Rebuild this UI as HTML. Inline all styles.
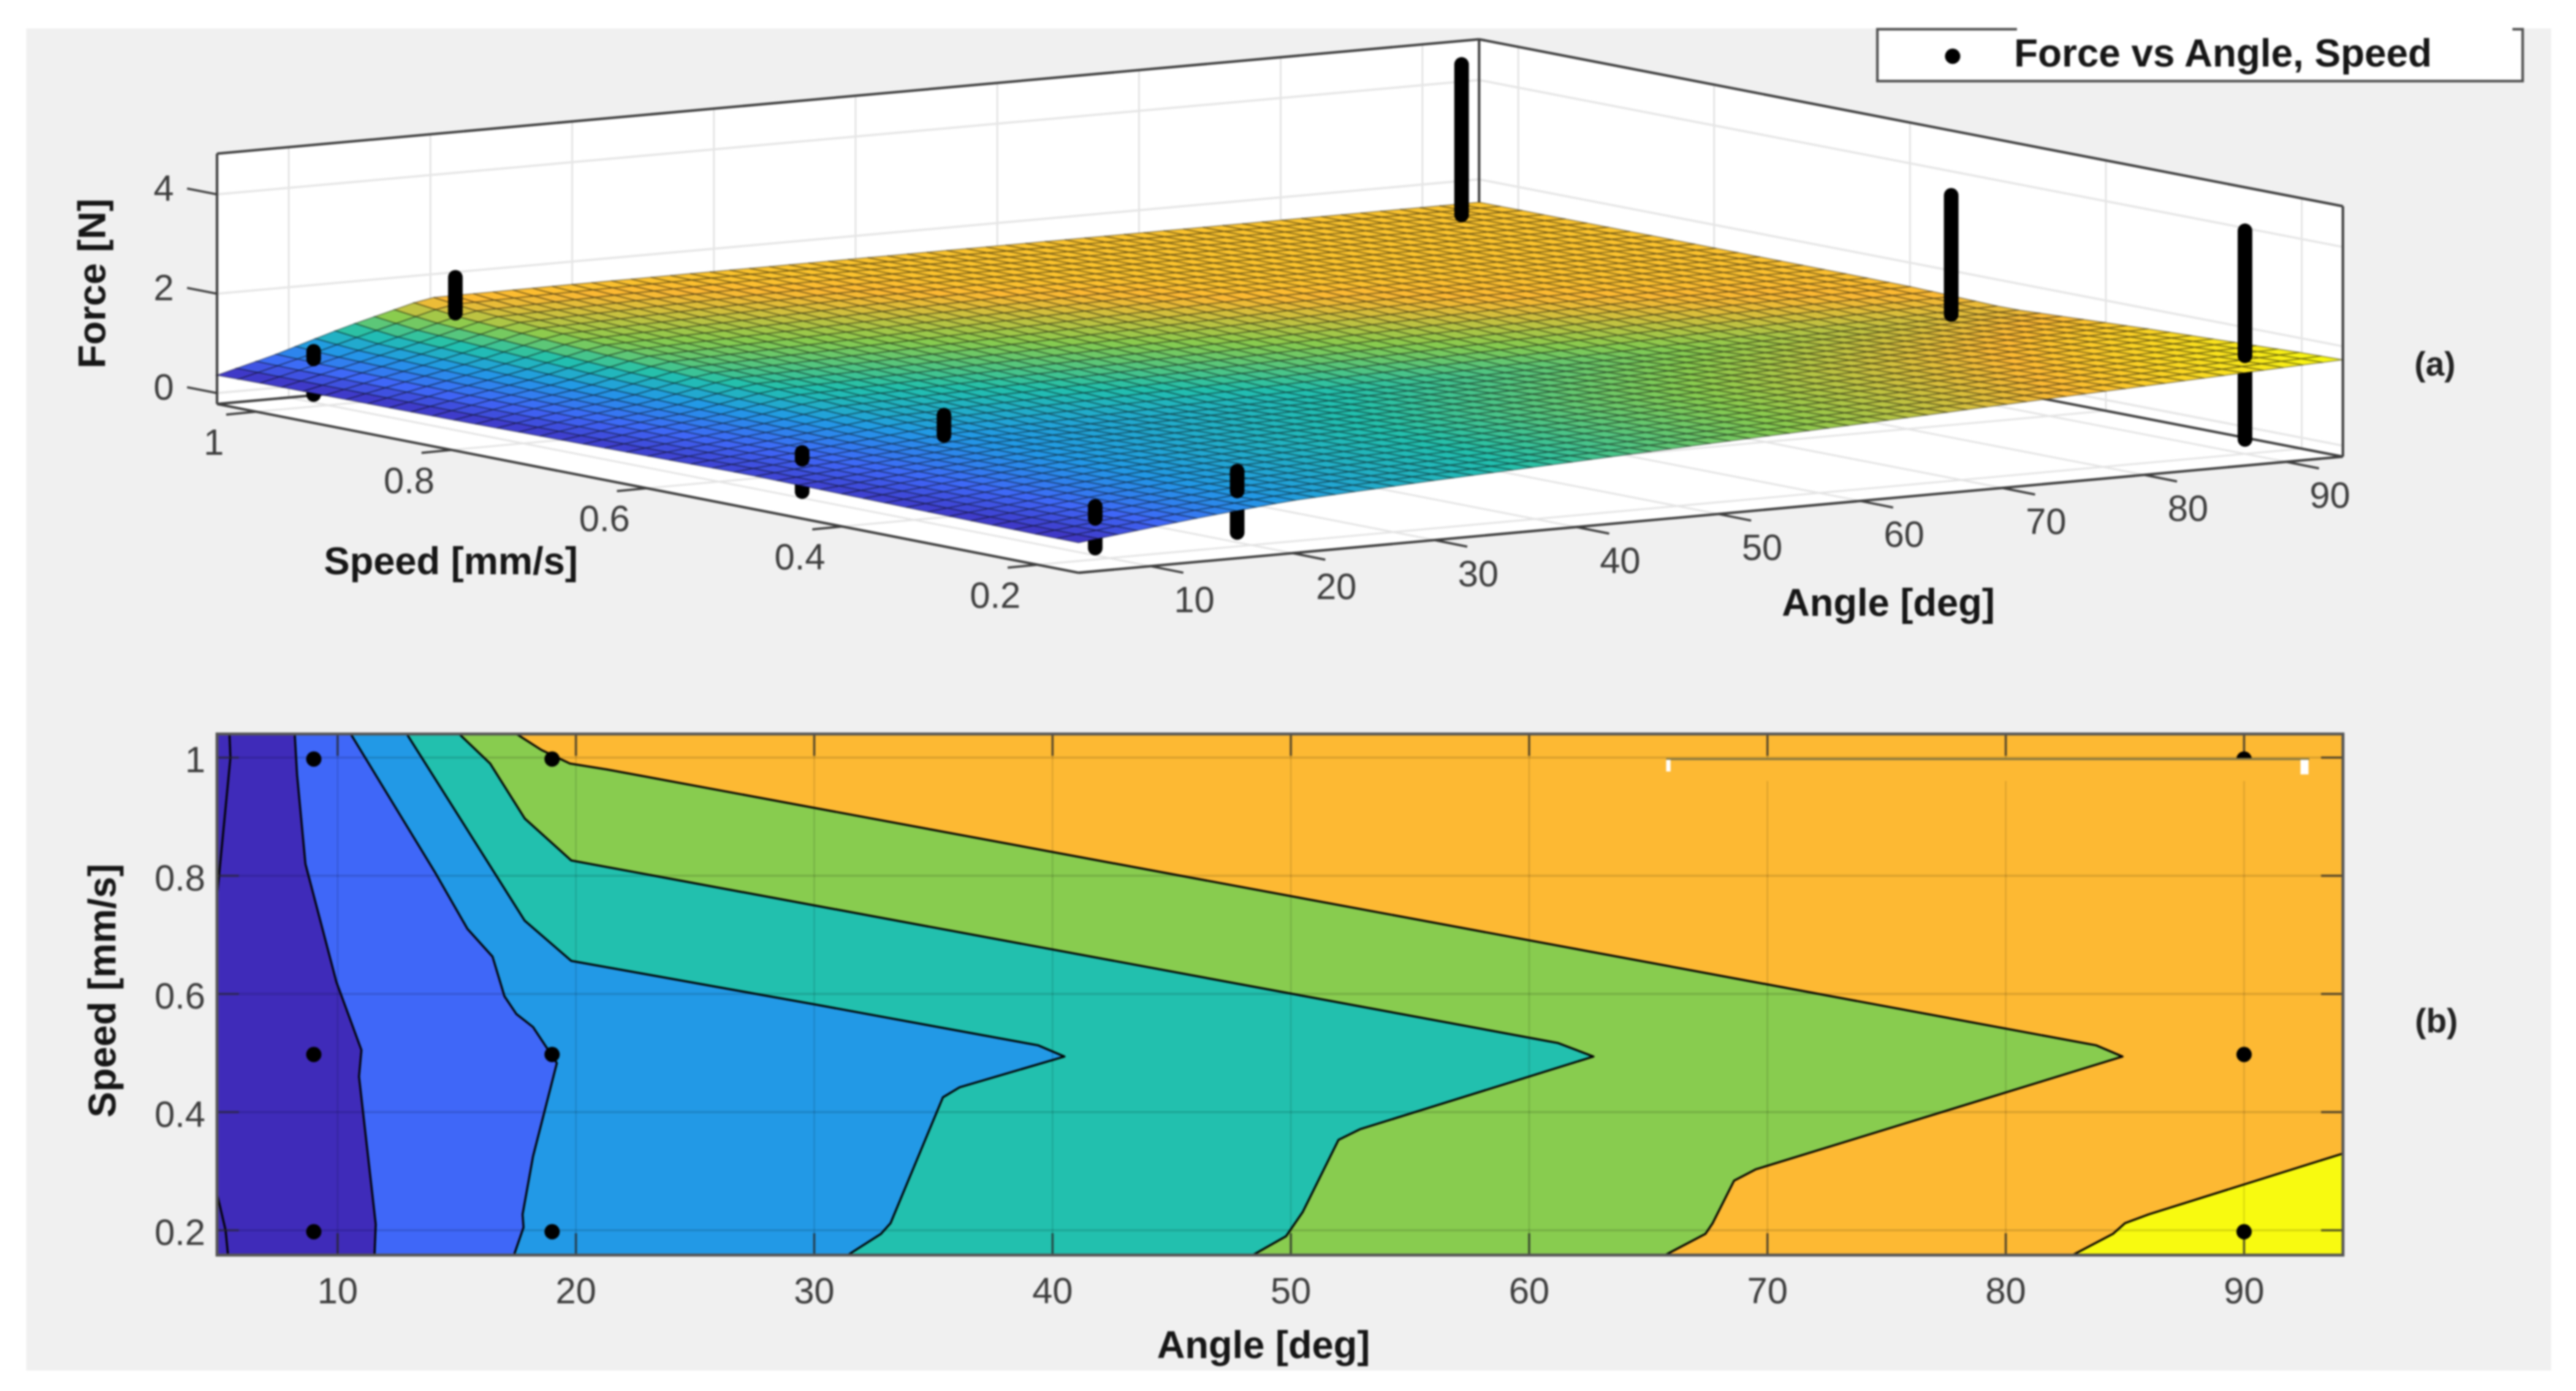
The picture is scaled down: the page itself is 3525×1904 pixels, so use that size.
<!DOCTYPE html>
<html lang="en">
<head>
<meta charset="utf-8">
<title>Force vs Angle, Speed</title>
<style>
html,body{margin:0;padding:0;background:#fff;width:3525px;height:1904px;overflow:hidden}
svg{display:block;filter:blur(1.2px)}
text{font-family:"Liberation Sans",Arial,sans-serif}
.tick{font-size:50px;fill:#3c3c3c;text-anchor:middle}
.lab{font-size:53px;font-weight:bold;fill:#161616;text-anchor:middle}
</style>
</head>
<body>
<svg id="chart" xmlns="http://www.w3.org/2000/svg" width="3525" height="1904" viewBox="0 0 3525 1904">
  <rect x="36" y="39" width="3455" height="1837" fill="#f0f0f0"/>
  <g id="g3d"></g>
  <g id="g2d"></g>
  <text class="lab" transform="translate(144,388) rotate(-90)">Force [N]</text>
  <text class="lab" x="617" y="786">Speed [mm/s]</text>
  <text class="lab" x="2584" y="843">Angle [deg]</text>
  <text class="lab" transform="translate(158,1356) rotate(-90)">Speed [mm/s]</text>
  <text class="lab" x="1729" y="1859">Angle [deg]</text>
  <text x="3332" y="514" style="font-size:46px;font-weight:bold;fill:#222;text-anchor:middle">(a)</text>
  <text x="3334" y="1413" style="font-size:46px;font-weight:bold;fill:#222;text-anchor:middle">(b)</text>
  <g>
    <rect x="2569" y="39" width="883" height="72" fill="#fff"/>
    <path d="M2760 40H2569V111H3452V40H3438" fill="none" stroke="#505050" stroke-width="3.5"/>
    <circle cx="2672" cy="77" r="10.5" fill="#000"/>
    <text x="2756" y="91" style="font-size:53.5px;font-weight:bold;fill:#161616">Force vs Angle, Speed</text>
  </g>
</svg>
<script>
// ---------- surface data ----------
const angleGrid = [4.94, 9, 14, 19.8, 30, 40, 50, 60, 70, 80, 90, 94];
const speedGrid = [0.158, 0.2, 0.35, 0.5, 0.6, 0.7, 0.8, 0.9, 1, 1.04];
const forceGrid = [
  [0.385, 0.52, 0.681, 0.834, 0.98, 1.10, 1.22, 1.33, 1.45, 1.567, 1.684, 1.73],
  [0.388, 0.516, 0.677, 0.826, 0.96, 1.08, 1.194, 1.31, 1.427, 1.545, 1.664, 1.71],
  [0.42, 0.535, 0.68, 0.82, 0.943, 1.055, 1.16, 1.26, 1.364, 1.47, 1.57, 1.60],
  [0.452, 0.551, 0.673, 0.805, 0.897, 0.987, 1.077, 1.167, 1.257, 1.347, 1.437, 1.46],
  [0.43, 0.555, 0.71, 0.925, 1.017, 1.107, 1.197, 1.287, 1.377, 1.467, 1.51, 1.52],
  [0.41, 0.58, 0.747, 1.05, 1.137, 1.227, 1.317, 1.407, 1.497, 1.53, 1.53, 1.53],
  [0.39, 0.595, 0.805, 1.17, 1.257, 1.347, 1.437, 1.527, 1.535, 1.535, 1.535, 1.535],
  [0.38, 0.62, 0.9, 1.29, 1.377, 1.467, 1.535, 1.54, 1.54, 1.54, 1.54, 1.54],
  [0.37, 0.645, 1.0, 1.43, 1.497, 1.54, 1.54, 1.54, 1.54, 1.54, 1.54, 1.54],
  [0.36, 0.665, 1.1, 1.53, 1.54, 1.54, 1.54, 1.54, 1.54, 1.54, 1.54, 1.54]
];
// ---------- measured points ----------
const pointAngles = [9, 9, 9, 19, 19, 19, 90, 90, 90];
const pointSpeeds = [1, 0.5, 0.2, 1, 0.5, 0.2, 1, 0.5, 0.2];
const forceLow  = [0.02, -0.01, 0.01, 1.4, 0.86, 0.06, 1.54, 1.44, 0.07];
const forceHigh = [0.89, 0.78, 0.85, 2.12, 1.27, 1.295, 4.57, 3.84, 4.27];
// ---------- ticks ----------
const angleTicks = [10, 20, 30, 40, 50, 60, 70, 80, 90];
const speedTicks = [0.2, 0.4, 0.6, 0.8, 1];
const forceTicks = [0, 2, 4];
// ---------- contour lines: [angle, speed] ----------
const level0a = [[5.46,1.04],[5.5,1],[4.94,0.765]];
const level0b = [[4.94,0.262],[5.3,0.2],[5.4,0.158]];
const level1 = [[8.2,1.04],[8.3,0.97],[8.65,0.82],[9.95,0.62],[11,0.505],[10.9,0.46],[11.6,0.21],[11.55,0.158]];
const level2 = [[10.55,1.04],[14.07,0.807],[15.45,0.71],[16.5,0.663],[17,0.596],[17.5,0.566],[18.2,0.544],[19.2,0.483],[18.2,0.325],[17.76,0.227],[17.8,0.205],[17.4,0.158]];
const level3 = [[12.9,1.04],[17.85,0.724],[19.8,0.656],[30.2,0.581],[39.4,0.513],[40.5,0.494],[36.1,0.442],[35.4,0.425],[33.2,0.212],[32.8,0.194],[31.4,0.158]];
const level4 = [[15.1,1.04],[16.4,0.99],[17.85,0.897],[19.8,0.826],[61.2,0.517],[62.7,0.494],[52.9,0.371],[52,0.353],[50.5,0.231],[49.8,0.19],[48.4,0.158]];
const level5 = [[17.5,1.04],[18.55,1.013],[19.75,0.99],[21.3,0.98],[83.8,0.513],[84.9,0.494],[69.5,0.303],[68.6,0.284],[67.7,0.212],[67.4,0.194],[65.7,0.158]];
const level6 = [[82.8,0.158],[84.5,0.194],[85,0.212],[86,0.227],[94.15,0.33]];
const bandColors = ["#3f2bb9", "#3f67f8", "#2299e6", "#22c0ae", "#88cc4f", "#fdb933", "#f8fa10"];

const xMin = 4.94, xMax = 94, xMaxContour = 94.15, yMin = 0.158, yMax = 1.04, zMin = -0.22, zMax = 4.82;
const NS = "http://www.w3.org/2000/svg";
const g3 = document.getElementById("g3d");
const g2 = document.getElementById("g2d");

function mk(tag, parent, attrs, txt) {
  const el = document.createElementNS(NS, tag);
  for (const k in attrs) el.setAttribute(k, attrs[k]);
  if (txt !== undefined) el.textContent = txt;
  parent.appendChild(el);
  return el;
}
// 3-D axis function
function P(a, s, z) {
  const u = (a - xMin) / (xMax - xMin), v = (s - yMin) / (yMax - yMin);
  return [1476 + u * 1730 - v * 1179 - 3 * u * v, 784 - u * 159 - v * 231 + 2.5 * u * v - (z - zMin) * 68];
}
function pts(list) { return list.map(p => p[0].toFixed(1) + "," + p[1].toFixed(1)).join(" "); }
function seg(parent, p, q, stroke, w, cap) {
  return mk("line", parent, {x1:p[0], y1:p[1], x2:q[0], y2:q[1], stroke:stroke, "stroke-width":w, "stroke-linecap":cap || "butt"});
}
function findIdx(arr, v) {
  let i = 0;
  while (i < arr.length - 2 && v > arr[i + 1]) i++;
  return i;
}
function surfaceZ(a, s) {
  const i = findIdx(angleGrid, a), j = findIdx(speedGrid, s);
  const t = (a - angleGrid[i]) / (angleGrid[i + 1] - angleGrid[i]);
  const w = (s - speedGrid[j]) / (speedGrid[j + 1] - speedGrid[j]);
  const r0 = forceGrid[j], r1 = forceGrid[j + 1];
  return (1 - w) * ((1 - t) * r0[i] + t * r0[i + 1]) + w * ((1 - t) * r1[i] + t * r1[i + 1]);
}
const cmap = bandColors.map(h => [parseInt(h.slice(1,3),16), parseInt(h.slice(3,5),16), parseInt(h.slice(5,7),16)]);
const cLow = Math.min.apply(null, forceGrid.map(r => Math.min.apply(null, r)));
const cHigh = Math.max.apply(null, forceGrid.map(r => Math.max.apply(null, r)));
function colorOf(z) {
  let t = (z - cLow) / (cHigh - cLow) * (cmap.length - 1);
  t = Math.max(0, Math.min(cmap.length - 1.0001, t));
  const i = Math.floor(t), f = t - i, a = cmap[i], b = cmap[i + 1];
  return "rgb(" + [0,1,2].map(k => Math.round(a[k] + (b[k] - a[k]) * f)).join(",") + ")";
}

// ---- walls and floor ----
const wallL = mk("polygon", g3, {points: pts([P(xMin,yMax,zMin),P(xMin,yMax,zMax),P(xMax,yMax,zMax),P(xMax,yMax,zMin)]), fill:"#fff"});


const wallR = mk("polygon", g3, {points: pts([P(xMax,yMax,zMin),P(xMax,yMax,zMax),P(xMax,yMin,zMax),P(xMax,yMin,zMin)]), fill:"#fff"});


const floorP = mk("polygon", g3, {points: pts([P(xMin,yMin,zMin),P(xMin,yMax,zMin),P(xMax,yMax,zMin),P(xMax,yMin,zMin)]), fill:"#fff"});



// ---- grid ----
const gridCol = "#dedede";
angleTicks.forEach(a => {
  const l1 = seg(g3, P(a,yMax,zMin), P(a,yMax,zMax), gridCol, 2);
  
  
  const l2 = seg(g3, P(a,yMin,zMin), P(a,yMax,zMin), "#e4e4e4", 2.5);
  
  
});
speedTicks.forEach(s => {
  const l1 = seg(g3, P(xMax,s,zMin), P(xMax,s,zMax), gridCol, 2);
  
  
  const l2 = seg(g3, P(xMin,s,zMin), P(xMax,s,zMin), "#e4e4e4", 2.5);
  
  
});
forceTicks.forEach(z => {
  const l1 = seg(g3, P(xMin,yMax,z), P(xMax,yMax,z), "#e6e6e6", 3);
  
  
  const l2 = seg(g3, P(xMax,yMax,z), P(xMax,yMin,z), "#e6e6e6", 3);
  
  
});

// ---- box edges ----
const boxCol = "#3c3c3c";
[
  [P(xMin,yMax,zMin), P(xMax,yMax,zMin)],
  [P(xMax,yMax,zMin), P(xMax,yMin,zMin)],
  [P(xMax,yMax,zMin), P(xMax,yMax,zMax)],
  [P(xMin,yMax,zMin), P(xMin,yMax,zMax)],
  [P(xMin,yMax,zMax), P(xMax,yMax,zMax)],
  [P(xMax,yMax,zMax), P(xMax,yMin,zMax)],
  [P(xMax,yMin,zMin), P(xMax,yMin,zMax)],
  [P(xMin,yMax,zMin), P(xMin,yMin,zMin)],
  [P(xMin,yMin,zMin), P(xMax,yMin,zMin)]
].forEach(e => {
  const l = seg(g3, e[0], e[1], boxCol, 3.4);
  
  
});

// ---- ticks and labels ----
angleTicks.forEach(a => {
  const p = P(a, yMin, zMin);
  const t = seg(g3, p, [p[0] + 45, p[1] + 9], boxCol, 3);
  
  
  const l = mk("text", g3, {x:p[0] + 60, y:p[1] + 63, class:"tick"}, String(a));
  
  
});
speedTicks.forEach(s => {
  const p = P(xMin, s, zMin);
  const t = seg(g3, p, [p[0] - 41, p[1] + 4], boxCol, 3);
  
  
  const l = mk("text", g3, {x:p[0] - 58, y:p[1] + 59, class:"tick"}, String(s));
  
  
});
forceTicks.forEach(z => {
  const p = P(xMin, yMax, z);
  const t = seg(g3, p, [p[0] - 41, p[1] - 8], boxCol, 3);
  
  
  const l = mk("text", g3, {x:224, y:p[1] + 9, class:"tick"}, String(z));
  
  
});

// ---- lower parts of the point stacks (behind the surface) ----
pointAngles.forEach((a, i) => {
  const s = pointSpeeds[i], zs = surfaceZ(a, s);
  if (forceLow[i] < zs) {
    const b = seg(g3, P(a, s, forceLow[i]), P(a, s, Math.min(zs, forceHigh[i])), "#000", 20, "round");
    
    
  }
});

// ---- surface mesh ----
const surfGroup = mk("g", g3, {});


const NA = 64, NS_ = 40;
for (let j = NS_ - 1; j >= 0; j--) {
  const s0 = yMin + (yMax - yMin) * j / NS_, s1 = yMin + (yMax - yMin) * (j + 1) / NS_;
  for (let i = 0; i < NA; i++) {
    const a0 = xMin + (xMax - xMin) * i / NA, a1 = xMin + (xMax - xMin) * (i + 1) / NA;
    const z00 = surfaceZ(a0, s0), z10 = surfaceZ(a1, s0), z11 = surfaceZ(a1, s1), z01 = surfaceZ(a0, s1);
    const q = mk("polygon", surfGroup, {
      points: pts([P(a0,s0,z00), P(a1,s0,z10), P(a1,s1,z11), P(a0,s1,z01)]),
      fill: colorOf((z00 + z10 + z11 + z01) / 4),
      stroke: "rgba(0,0,0,0.38)",
      "stroke-width": 1.6
    });
    
    
  }
}

// ---- upper parts of the point stacks ----
pointAngles.forEach((a, i) => {
  const s = pointSpeeds[i], zs = surfaceZ(a, s);
  const lo = forceLow[i] >= zs ? forceLow[i] : zs + 0.09;
  if (forceHigh[i] > lo) {
    const b = seg(g3, P(a, s, lo), P(a, s, forceHigh[i]), "#000", 20, "round");
    
    
  }
});

// ---------- contour panel ----------
function X(a) { return 462 + (a - 10) * 32.61; }
function Y(s) { return 1684 - (s - 0.2) * 808.75; }
function toXY(line) { return line.map(p => [X(p[0]), Y(p[1])]); }
const L = X(xMin), R = X(xMaxContour), T = Y(yMax), B = Y(yMin);

const bg = mk("rect", g2, {x:L, y:T, width:R - L, height:B - T, fill:bandColors[0]});


[level1, level2, level3, level4, level5].forEach((lev, i) => {
  const poly = toXY(lev).concat([[R, B], [R, T]]);
  const f = mk("polygon", g2, {points: pts(poly), fill: bandColors[i + 1]});
  
  
});
const yellowBand = mk("polygon", g2, {points: pts(toXY(level6).concat([[R, B]])), fill: bandColors[6]});


[level0a, level0b, level1, level2, level3, level4, level5, level6].forEach(lev => {
  const c = mk("polyline", g2, {points: pts(toXY(lev)), fill:"none", stroke:"#000", "stroke-width":2.8, "stroke-linejoin":"round"});
  
  
});

// grid
angleTicks.forEach(a => {
  const g = seg(g2, [X(a), T], [X(a), B], "rgba(0,0,0,0.13)", 2);
  
  
  const t1 = seg(g2, [X(a), T], [X(a), T + 30], "rgba(40,40,40,0.75)", 3);
  
  
  const t2 = seg(g2, [X(a), B], [X(a), B - 30], "rgba(40,40,40,0.75)", 3);
  
  
  const l = mk("text", g2, {x:X(a), y:1784, class:"tick"}, String(a));
  
  
});
speedTicks.forEach(s => {
  const g = seg(g2, [L, Y(s)], [R, Y(s)], "rgba(0,0,0,0.13)", 3);
  
  
  const t1 = seg(g2, [L, Y(s)], [L + 30, Y(s)], "rgba(40,40,40,0.6)", 3);
  
  
  const t2 = seg(g2, [R, Y(s)], [R - 30, Y(s)], "rgba(40,40,40,0.75)", 3);
  
  
  const l = mk("text", g2, {x:281, y:Y(s) + 20, class:"tick", style:"text-anchor:end"}, String(s));
  
  
});

// points
pointAngles.forEach((a, i) => {
  const c = mk("circle", g2, {cx:X(a), cy:Y(pointSpeeds[i]) + 2, r:10.5, fill:"#000"});
  
  
});

// legend ghost left in the original figure
const ghostFill = mk("rect", g2, {x:2285, y:1039, width:863, height:30, fill:bandColors[5]});


const ghostLine = seg(g2, [2280, 1039], [3160, 1039], "#8a7a40", 3);


const ghostA = mk("rect", g2, {x:2280, y:1040, width:6, height:16, fill:"#fff"});


const ghostB = mk("rect", g2, {x:3148, y:1040, width:11, height:20, fill:"#fff"});



const frame = mk("rect", g2, {x:L, y:T, width:R - L, height:B - T, fill:"none", stroke:"#555", "stroke-width":4});


</script>
</body>
</html>
